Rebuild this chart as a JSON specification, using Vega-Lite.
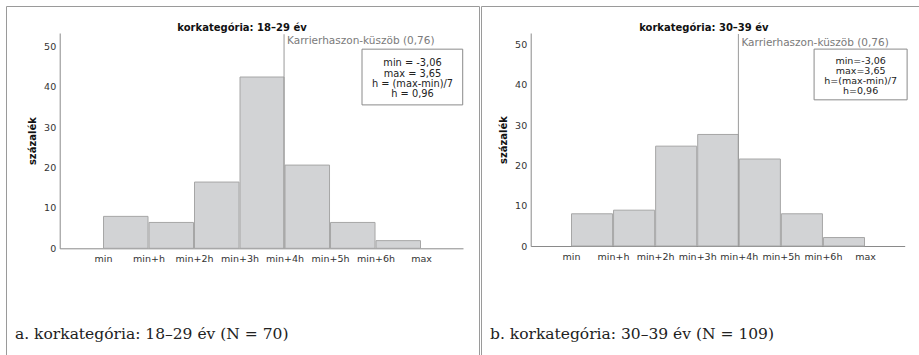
{
  "$schema": "https://vega.github.io/schema/vega-lite/v6.json",
  "padding": {"left": 5, "top": 5, "right": 0, "bottom": 0},
  "background": "white",
  "spacing": 0,
  "config": {
    "font": "DejaVu Sans",
    "view": {"stroke": "#9a9a9a", "strokeWidth": 1},
    "axis": {"domainColor": "#8a8a8a", "ticks": false, "grid": false, "labelFont": "DejaVu Sans", "labelFontSize": 9.5, "labelColor": "#333333", "titleFont": "DejaVu Sans", "titleFontSize": 10, "titleFontWeight": "bold", "titleColor": "#111111"}
  },
  "datasets": {
    "a": [
      {"bin": "min – min+h", "start": -3.06, "end": -2.10, "pct": 7.9},
      {"bin": "min+h – min+2h", "start": -2.10, "end": -1.14, "pct": 6.4},
      {"bin": "min+2h – min+3h", "start": -1.14, "end": -0.18, "pct": 16.4},
      {"bin": "min+3h – min+4h", "start": -0.18, "end": 0.77, "pct": 42.4},
      {"bin": "min+4h – min+5h", "start": 0.77, "end": 1.73, "pct": 20.6},
      {"bin": "min+5h – min+6h", "start": 1.73, "end": 2.69, "pct": 6.4},
      {"bin": "min+6h – max", "start": 2.69, "end": 3.65, "pct": 1.9}
    ],
    "b": [
      {"bin": "min – min+h", "start": -3.06, "end": -2.10, "pct": 8.0},
      {"bin": "min+h – min+2h", "start": -2.10, "end": -1.14, "pct": 8.9},
      {"bin": "min+2h – min+3h", "start": -1.14, "end": -0.18, "pct": 24.8},
      {"bin": "min+3h – min+4h", "start": -0.18, "end": 0.77, "pct": 27.7},
      {"bin": "min+4h – min+5h", "start": 0.77, "end": 1.73, "pct": 21.6},
      {"bin": "min+5h – min+6h", "start": 1.73, "end": 2.69, "pct": 8.0},
      {"bin": "min+6h – max", "start": 2.69, "end": 3.65, "pct": 2.1}
    ]
  },
  "resolve": {"scale": {"x": "independent", "y": "independent"}},
  "hconcat": [
    {
      "width": 473,
      "height": 355,
      "layer": [
        {
          "data": {"name": "a"},
          "mark": {"type": "rect", "fill": "#d2d3d5", "stroke": "#a6a6a6", "strokeWidth": 1, "xOffset": 0.5, "x2Offset": -0.5},
          "encoding": {
            "x": {"field": "start", "type": "quantitative",
                  "scale": {"domain": [-3.974, 4.536], "range": [53.7, 457], "nice": false, "zero": false},
                  "axis": {"title": null, "orient": "bottom", "offset": -112.7, "values": [-3.06, -2.10, -1.14, -0.18, 0.77, 1.73, 2.69, 3.65],
                           "labelExpr": "['min','min+h','min+2h','min+3h','min+4h','min+5h','min+6h','max'][round((datum.value+3.06)/0.9586)]",
                           "labelPadding": 5, "labelOverlap": false, "labelFlush": false}},
            "x2": {"field": "end"},
            "y": {"field": "pct", "type": "quantitative",
                  "scale": {"domain": [0, 53.3], "range": [242.3, 27], "nice": false, "zero": true},
                  "axis": {"title": "százalék", "orient": "left", "offset": -53.7, "values": [0, 10, 20, 30, 40, 50], "labelPadding": 4, "titlePadding": 6}},
            "y2": {"datum": 0}
          }
        },
        {
          "data": {"values": [{}]},
          "mark": {"type": "rule", "color": "#9a9a9a", "strokeWidth": 1},
          "encoding": {"x": {"datum": 0.76}, "y": {"datum": 0}, "y2": {"datum": 53.0}}
        },
        {
          "data": {"values": [{}]},
          "mark": {"type": "rect", "fill": "white", "stroke": "#8a8a8a", "strokeWidth": 1},
          "encoding": {"x": {"datum": 2.405}, "x2": {"datum": 4.53}, "y": {"datum": 49.3}, "y2": {"datum": 35.5}}
        },
        {
          "data": {"values": [{}]},
          "mark": {"type": "text", "text": "min = -3,06", "fontSize": 9.8, "align": "center", "baseline": "middle", "color": "#222222"},
          "encoding": {"x": {"datum": 3.47}, "y": {"datum": 45.75}}
        },
        {
          "data": {"values": [{}]},
          "mark": {"type": "text", "text": "max = 3,65", "fontSize": 9.8, "align": "center", "baseline": "middle", "color": "#222222"},
          "encoding": {"x": {"datum": 3.47}, "y": {"datum": 43.2}}
        },
        {
          "data": {"values": [{}]},
          "mark": {"type": "text", "text": "h = (max-min)/7", "fontSize": 9.8, "align": "center", "baseline": "middle", "color": "#222222"},
          "encoding": {"x": {"datum": 3.47}, "y": {"datum": 40.65}}
        },
        {
          "data": {"values": [{}]},
          "mark": {"type": "text", "text": "h = 0,96", "fontSize": 9.8, "align": "center", "baseline": "middle", "color": "#222222"},
          "encoding": {"x": {"datum": 3.47}, "y": {"datum": 38.1}}
        },
        {
          "data": {"values": [{}]},
          "mark": {"type": "text", "text": "Karrierhaszon-küszöb (0,76)", "fontSize": 10.5, "align": "left", "baseline": "middle", "dx": 3, "color": "#7a7a7a"},
          "encoding": {"x": {"datum": 0.76}, "y": {"datum": 51.3}}
        },
        {
          "data": {"values": [{}]},
          "mark": {"type": "text", "text": "korkategória: 18–29 év", "fontSize": 10, "fontWeight": "bold", "align": "center", "baseline": "middle", "color": "#111111"},
          "encoding": {"x": {"datum": -0.127}, "y": {"datum": 54.6}}
        },
        {
          "data": {"values": [{}]},
          "mark": {"type": "text", "text": "a. korkategória: 18–29 év (N = 70)", "font": "DejaVu Serif", "fontSize": 15.5, "align": "left", "baseline": "middle", "color": "#222222"},
          "encoding": {"x": {"datum": -4.917}, "y": {"datum": -21.2}}
        }
      ]
    },
    {
      "width": 450,
      "height": 355,
      "layer": [
        {
          "data": {"name": "b"},
          "mark": {"type": "rect", "fill": "#d2d3d5", "stroke": "#a6a6a6", "strokeWidth": 1, "xOffset": 0.5, "x2Offset": -0.5},
          "encoding": {
            "x": {"field": "start", "type": "quantitative",
                  "scale": {"domain": [-3.98, 4.556], "range": [49.7, 423.7], "nice": false, "zero": false},
                  "axis": {"title": null, "orient": "bottom", "offset": -115, "values": [-3.06, -2.10, -1.14, -0.18, 0.77, 1.73, 2.69, 3.65],
                           "labelExpr": "['min','min+h','min+2h','min+3h','min+4h','min+5h','min+6h','max'][round((datum.value+3.06)/0.9586)]",
                           "labelPadding": 5, "labelOverlap": false, "labelFlush": false}},
            "x2": {"field": "end"},
            "y": {"field": "pct", "type": "quantitative",
                  "scale": {"domain": [0, 52.9], "range": [240, 27], "nice": false, "zero": true},
                  "axis": {"title": "százalék", "orient": "left", "offset": -49.7, "values": [0, 10, 20, 30, 40, 50], "labelPadding": 4, "titlePadding": 6}},
            "y2": {"datum": 0}
          }
        },
        {
          "data": {"values": [{}]},
          "mark": {"type": "rule", "color": "#9a9a9a", "strokeWidth": 1},
          "encoding": {"x": {"datum": 0.76}, "y": {"datum": 0}, "y2": {"datum": 52.65}}
        },
        {
          "data": {"values": [{}]},
          "mark": {"type": "rect", "fill": "white", "stroke": "#8a8a8a", "strokeWidth": 1},
          "encoding": {"x": {"datum": 2.488}, "x2": {"datum": 4.611}, "y": {"datum": 48.9}, "y2": {"datum": 36.3}}
        },
        {
          "data": {"values": [{}]},
          "mark": {"type": "text", "text": "min=-3,06", "fontSize": 9.5, "align": "center", "baseline": "middle", "color": "#222222"},
          "encoding": {"x": {"datum": 3.55}, "y": {"datum": 45.95}}
        },
        {
          "data": {"values": [{}]},
          "mark": {"type": "text", "text": "max=3,65", "fontSize": 9.5, "align": "center", "baseline": "middle", "color": "#222222"},
          "encoding": {"x": {"datum": 3.55}, "y": {"datum": 43.45}}
        },
        {
          "data": {"values": [{}]},
          "mark": {"type": "text", "text": "h=(max-min)/7", "fontSize": 9.5, "align": "center", "baseline": "middle", "color": "#222222"},
          "encoding": {"x": {"datum": 3.55}, "y": {"datum": 40.96}}
        },
        {
          "data": {"values": [{}]},
          "mark": {"type": "text", "text": "h=0,96", "fontSize": 9.5, "align": "center", "baseline": "middle", "color": "#222222"},
          "encoding": {"x": {"datum": 3.55}, "y": {"datum": 38.47}}
        },
        {
          "data": {"values": [{}]},
          "mark": {"type": "text", "text": "Karrierhaszon-küszöb (0,76)", "fontSize": 10.5, "align": "left", "baseline": "middle", "dx": 3, "color": "#7a7a7a"},
          "encoding": {"x": {"datum": 0.76}, "y": {"datum": 50.4}}
        },
        {
          "data": {"values": [{}]},
          "mark": {"type": "text", "text": "korkategória: 30–39 év", "fontSize": 10, "fontWeight": "bold", "align": "center", "baseline": "middle", "color": "#111111"},
          "encoding": {"x": {"datum": -0.028}, "y": {"datum": 54.2}}
        },
        {
          "data": {"values": [{}]},
          "mark": {"type": "text", "text": "b. korkategória: 30–39 év (N = 109)", "font": "DejaVu Serif", "fontSize": 15.5, "align": "left", "baseline": "middle", "color": "#222222"},
          "encoding": {"x": {"datum": -4.909}, "y": {"datum": -21.9}}
        }
      ]
    }
  ]
}
